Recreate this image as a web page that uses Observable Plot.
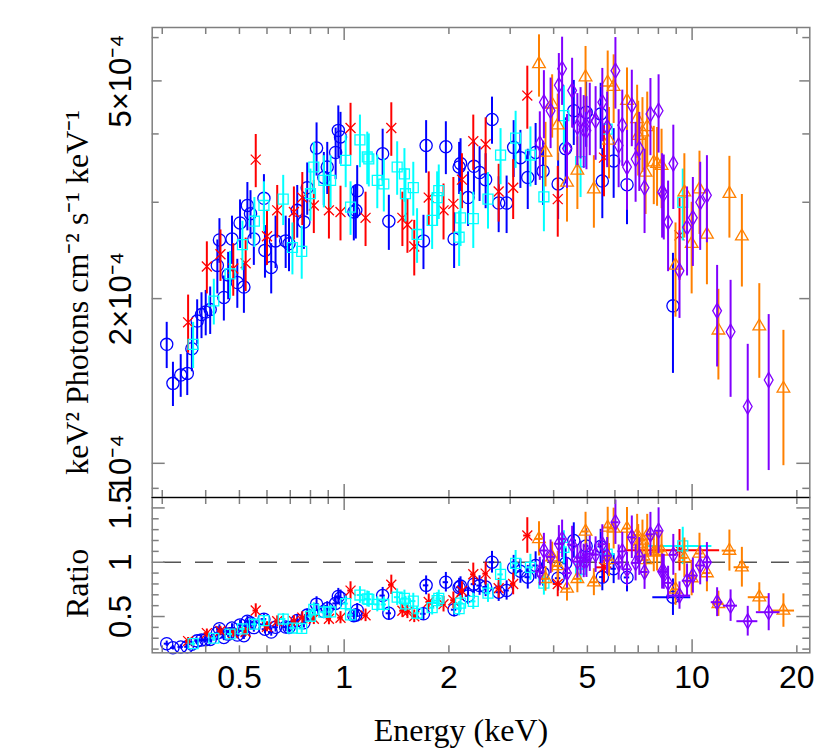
<!DOCTYPE html>
<html><head><meta charset="utf-8">
<script src="https://cdn.jsdelivr.net/npm/d3@7"></script>
<script src="https://cdn.jsdelivr.net/npm/@observablehq/plot@0.6"></script>
<style>
html,body{margin:0;padding:0;background:#fff;}
#chart{position:relative;width:830px;height:756px;overflow:hidden;background:#fff;}
#chart svg{position:absolute;left:0;}
</style></head><body><div id="chart"></div>
<script>
// Each row: [energy keV, half bin width keV, flux (1e-4 keV^2 ph cm^-2 s^-1 keV^-1), flux error, ratio, ratio error]
const blue = [
[0.309,0.005,1.65,0.16,0.250,0.024],[0.322,0.005,1.40,0.13,0.212,0.020],[0.339,0.006,1.45,0.13,0.220,0.020],
[0.354,0.006,1.46,0.13,0.221,0.020],[0.365,0.006,1.62,0.15,0.245,0.023],[0.378,0.006,1.82,0.17,0.276,0.026],
[0.389,0.007,1.87,0.18,0.283,0.027],[0.400,0.007,1.89,0.18,0.286,0.027],[0.412,0.007,1.91,0.19,0.289,0.029],
[0.432,0.008,2.30,0.26,0.349,0.039],[0.438,0.008,2.56,0.24,0.388,0.036],[0.451,0.008,2.01,0.19,0.307,0.029],
[0.464,0.008,2.21,0.22,0.338,0.034],[0.476,0.009,2.57,0.26,0.394,0.040],[0.493,0.009,2.14,0.22,0.329,0.034],
[0.502,0.009,2.75,0.28,0.423,0.043],[0.515,0.009,2.10,0.22,0.323,0.034],[0.527,0.010,2.96,0.30,0.457,0.046],
[0.538,0.010,2.86,0.29,0.441,0.045],[0.550,0.010,2.57,0.27,0.398,0.042],[0.588,0.011,3.05,0.32,0.476,0.050],
[0.592,0.011,2.45,0.27,0.383,0.042],[0.617,0.011,2.28,0.24,0.357,0.038],[0.635,0.012,2.55,0.28,0.401,0.044],
[0.679,0.012,2.55,0.28,0.403,0.044],[0.694,0.013,2.52,0.28,0.400,0.044],[0.733,0.013,2.90,0.32,0.463,0.051],
[0.766,0.014,2.76,0.30,0.442,0.048],[0.783,0.014,3.19,0.35,0.513,0.056],[0.833,0.015,3.77,0.42,0.614,0.068],
[0.874,0.016,3.33,0.37,0.546,0.061],[0.894,0.016,3.48,0.38,0.574,0.063],[0.945,0.017,3.70,0.40,0.621,0.067],
[0.962,0.017,4.06,0.44,0.685,0.074],[0.976,0.018,3.95,0.43,0.671,0.073],[1.066,0.019,2.88,0.33,0.508,0.058],
[1.080,0.019,2.90,0.33,0.513,0.058],[1.090,0.020,3.15,0.35,0.558,0.062],[1.290,0.023,3.68,0.40,0.693,0.075],
[1.344,0.024,2.77,0.32,0.530,0.061],[1.690,0.030,2.55,0.29,0.525,0.060],[1.720,0.031,3.81,0.42,0.787,0.087],
[1.960,0.035,3.79,0.42,0.816,0.090],[2.070,0.037,2.57,0.30,0.563,0.066],[2.140,0.038,3.48,0.38,0.768,0.084],
[2.160,0.039,3.53,0.39,0.780,0.086],[2.270,0.041,3.06,0.35,0.690,0.079],[2.360,0.042,3.49,0.40,0.798,0.091],
[2.450,0.044,3.40,0.39,0.785,0.090],[2.550,0.046,3.30,0.38,0.772,0.089],[2.660,0.048,4.25,0.42,1.000,0.100],
[2.780,0.050,2.99,0.35,0.724,0.085],[2.930,0.053,2.99,0.36,0.740,0.089],[3.070,0.055,3.78,0.45,0.950,0.113],
[3.210,0.058,3.62,0.44,0.917,0.111],[3.370,0.061,3.33,0.42,0.862,0.109],[3.550,0.064,3.70,0.48,0.970,0.126],
[3.730,0.067,3.42,0.46,0.900,0.121],[4.120,0.074,3.24,0.45,0.853,0.118],[4.330,0.078,3.76,0.52,0.990,0.137],
[4.570,0.082,4.41,0.60,1.200,0.163],[4.960,0.089,4.38,0.60,1.150,0.158],[5.460,0.098,4.35,0.60,1.145,0.158],
[5.520,0.099,3.28,0.48,0.863,0.126],[5.950,0.107,3.57,0.52,0.940,0.137],[6.500,0.117,3.23,0.50,0.860,0.133],
[8.810,1.100,1.94,0.48,0.678,0.168]
];
const red = [
[0.356,0.006,1.81,0.22,0.274,0.033],[0.403,0.007,2.29,0.25,0.347,0.038],[0.441,0.008,2.41,0.26,0.367,0.040],
[0.480,0.009,2.27,0.25,0.348,0.038],[0.521,0.009,2.32,0.26,0.358,0.040],[0.557,0.010,3.59,0.40,0.555,0.062],
[0.600,0.011,2.60,0.30,0.406,0.047],[0.642,0.012,2.90,0.32,0.456,0.050],[0.717,0.013,2.88,0.32,0.458,0.051],
[0.758,0.014,3.06,0.34,0.490,0.054],[0.818,0.015,2.96,0.33,0.480,0.054],[0.904,0.016,2.90,0.33,0.479,0.055],
[0.976,0.018,2.88,0.33,0.489,0.056],[1.043,0.019,4.10,0.45,0.739,0.081],[1.152,0.021,2.81,0.32,0.511,0.058],
[1.366,0.025,4.10,0.46,0.792,0.089],[1.470,0.026,2.81,0.32,0.553,0.063],[1.520,0.027,2.73,0.31,0.543,0.062],
[1.590,0.029,2.49,0.29,0.502,0.058],[1.750,0.032,3.06,0.35,0.634,0.073],[1.930,0.035,2.90,0.34,0.614,0.072],
[2.060,0.037,2.98,0.35,0.650,0.076],[2.180,0.039,3.30,0.38,0.735,0.085],[2.350,0.042,3.88,0.45,0.889,0.103],
[2.550,0.046,3.83,0.45,0.895,0.105],[2.780,0.050,3.14,0.38,0.760,0.092],[3.060,0.055,3.19,0.40,0.800,0.100],
[3.360,0.080,4.70,0.62,1.246,0.164],[4.110,0.120,3.04,0.45,0.800,0.118],[5.580,0.300,3.62,0.55,0.953,0.145],
[9.200,2.800,2.61,0.45,1.110,0.191]
];
const cyan = [
[0.368,0.006,1.65,0.16,0.250,0.024],[0.422,0.007,1.98,0.19,0.300,0.029],[0.470,0.008,2.22,0.22,0.339,0.034],
[0.510,0.009,2.51,0.26,0.386,0.040],[0.552,0.010,2.77,0.29,0.429,0.045],[0.588,0.011,2.96,0.31,0.462,0.048],
[0.668,0.012,3.04,0.32,0.477,0.050],[0.710,0.013,2.48,0.27,0.394,0.043],[0.755,0.014,2.44,0.27,0.390,0.043],
[0.800,0.014,3.11,0.34,0.502,0.055],[0.818,0.015,3.48,0.38,0.565,0.062],[0.874,0.016,3.29,0.36,0.540,0.059],
[0.914,0.016,3.29,0.36,0.543,0.059],[1.010,0.018,3.58,0.39,0.619,0.067],[1.043,0.019,2.94,0.33,0.515,0.058],
[1.110,0.020,3.90,0.43,0.698,0.077],[1.165,0.021,3.63,0.40,0.662,0.073],[1.177,0.021,3.60,0.40,0.658,0.073],
[1.245,0.022,3.29,0.37,0.612,0.069],[1.300,0.023,3.24,0.36,0.611,0.068],[1.420,0.026,3.48,0.39,0.678,0.076],
[1.490,0.027,3.38,0.38,0.668,0.075],[1.500,0.027,3.11,0.35,0.616,0.069],[1.580,0.028,3.19,0.36,0.642,0.072],
[1.620,0.029,2.62,0.30,0.530,0.061],[1.790,0.032,2.78,0.32,0.581,0.067],[1.850,0.033,3.06,0.35,0.646,0.074],
[1.870,0.034,3.15,0.36,0.667,0.076],[2.140,0.038,2.59,0.30,0.572,0.066],[2.160,0.039,2.81,0.32,0.623,0.071],
[2.350,0.042,2.80,0.33,0.640,0.075],[2.590,0.047,3.04,0.36,0.715,0.085],[2.815,0.051,3.66,0.43,0.888,0.104],
[3.110,0.060,3.93,0.47,0.990,0.118],[3.430,0.070,3.66,0.46,0.953,0.120],[3.750,0.080,3.07,0.42,0.808,0.111],
[4.280,0.100,4.32,0.58,1.137,0.153],[4.780,0.120,3.56,0.50,0.937,0.132],[5.700,0.300,4.08,0.58,1.074,0.153],
[9.400,2.000,3.00,0.45,1.150,0.172]
];
const orange = [
[3.630,0.10,5.37,0.70,1.215,0.158],[3.790,0.10,3.70,0.50,0.847,0.114],[3.960,0.10,4.53,0.60,1.046,0.139],
[4.110,0.10,4.15,0.58,0.965,0.135],[4.370,0.11,3.26,0.50,0.758,0.116],[4.680,0.12,3.43,0.52,0.847,0.128],
[4.940,0.12,5.08,0.70,1.283,0.177],[5.220,0.13,3.17,0.48,0.816,0.124],[5.720,0.14,4.97,0.70,1.320,0.186],
[5.770,0.14,3.89,0.58,1.020,0.152],[5.950,0.15,4.88,0.70,1.310,0.188],[6.500,0.16,4.60,0.68,1.310,0.194],
[6.950,0.17,4.26,0.65,1.250,0.191],[7.000,0.17,3.97,0.62,1.165,0.182],[7.200,0.18,4.03,0.63,1.200,0.188],
[7.350,0.18,3.40,0.55,1.020,0.165],[7.430,0.19,4.12,0.65,1.245,0.196],[7.760,0.19,3.55,0.58,1.090,0.178],
[7.930,0.20,3.53,0.58,1.100,0.181],[8.170,0.20,3.50,0.58,1.100,0.182],[8.960,0.22,2.30,0.45,0.750,0.147],
[9.500,0.24,3.13,0.55,1.040,0.183],[9.970,0.25,2.52,0.48,0.854,0.163],[10.50,0.26,3.17,0.55,1.080,0.187],
[11.03,0.30,2.62,0.50,0.900,0.172],[11.90,0.45,1.75,0.33,0.617,0.116],[12.80,0.60,3.11,0.53,1.107,0.189],
[13.90,0.70,2.60,0.50,0.954,0.183],[15.60,1.10,1.78,0.35,0.678,0.133],[18.30,1.40,1.37,0.38,0.555,0.154]
];
const purple = [
[3.650,0.10,3.84,0.55,0.914,0.131],[3.750,0.10,4.57,0.65,1.108,0.158],[3.920,0.10,4.41,0.65,1.050,0.155],
[4.140,0.10,4.91,0.70,1.170,0.167],[4.230,0.11,5.26,0.75,1.215,0.173],[4.370,0.11,3.76,0.58,0.900,0.139],
[4.520,0.11,4.80,0.70,1.162,0.169],[4.680,0.12,4.12,0.62,1.005,0.151],[4.780,0.12,4.23,0.63,1.040,0.155],
[4.880,0.12,4.08,0.62,1.012,0.154],[4.970,0.12,4.06,0.62,1.015,0.155],[5.080,0.13,4.30,0.65,1.078,0.163],
[5.280,0.13,4.23,0.65,1.070,0.164],[5.520,0.14,4.57,0.70,1.166,0.179],[5.700,0.14,4.12,0.65,1.060,0.167],
[6.020,0.15,5.22,0.78,1.368,0.204],[6.150,0.15,3.81,0.62,0.997,0.162],[6.300,0.16,4.15,0.66,1.100,0.175],
[6.500,0.16,3.48,0.58,0.935,0.156],[6.710,0.17,4.51,0.72,1.230,0.196],[6.880,0.17,3.60,0.60,0.994,0.166],
[7.050,0.18,3.76,0.62,1.053,0.174],[7.300,0.18,3.19,0.56,0.910,0.160],[7.590,0.19,4.35,0.70,1.257,0.202],
[8.010,0.20,4.41,0.72,1.290,0.211],[8.200,0.20,3.13,0.55,0.914,0.161],[8.290,0.21,3.11,0.55,0.912,0.161],
[8.530,0.21,2.76,0.52,0.810,0.153],[8.830,0.22,3.53,0.62,1.068,0.188],[9.200,0.70,2.25,0.41,0.693,0.126],
[9.670,0.30,2.70,0.50,0.830,0.154],[10.05,0.30,2.81,0.52,0.877,0.162],[10.55,0.32,3.00,0.55,0.970,0.178],
[11.03,0.35,3.09,0.56,1.000,0.181],[11.80,0.45,1.90,0.40,0.632,0.133],[12.90,0.60,1.74,0.42,0.600,0.145],
[14.45,1.00,1.27,0.38,0.457,0.137],[16.60,1.30,1.42,0.45,0.540,0.171]
];

// axes
const xTickMinor = [0.3,0.4,0.5,0.6,0.7,0.8,0.9,2,3,4,5,6,7,8,9,20];
const xTickMajor = [1,10];
const xTickLabelValues = [0.5,1,2,5,10,20];
const xTickLabels = ["0.5","1","2","5","10","20"];
const yTickMinor = [0.9,3,4,6];
const yTickMid = [2,5];
const yTickMajor = [1];
const yTickLabelValues = [1,2,5];
const yTickLabels = ["10\u207B\u2074","2\u00D710\u207B\u2074","5\u00D710\u207B\u2074"];
const rTickMinor = [0.2,0.3,0.4,0.6,0.7,0.8,0.9,1.1,1.2,1.3,1.4];
const rTickMajor = [0.5,1,1.5];
const rTickLabels = ["0.5","1","1.5"];
const xTitle = "Energy (keV)";
const yTitle = "keV\u00B2 Photons cm\u207B\u00B2 s\u207B\u00B9 keV\u207B\u00B9";
const rTitle = "Ratio";

// layout
const W = 830, topH = 497, botH = 259;
const mL = 151.7, mR = 20.7, mT = 27, botMB = 103.7;
const plotW = W - mL - mR, topPlotH = topH - mT, botPlotH = botH - botMB;
const xDomain = [0.2807, 21.79];
const yDomainTop = [0.866, 6.26];
const yDomainRatio = [0.166, 1.596];

const series = [
  {data: blue, color: "#0000ff", symbol: "circle", r: 6.1},
  {data: red, color: "#ff0000", symbol: "times", r: 4.6},
  {data: cyan, color: "#00ffff", symbol: "square", r: 5.6},
  {data: orange, color: "#ff8000", symbol: "triangle", r: 4.7},
  {data: purple, color: "#8000ff", symbol: "diamond", r: 4.6}
];

const frameColor = "#7f7f7f";
const sansFont = "'Liberation Sans', Arial, Helvetica, sans-serif";
const serifFont = "'Liberation Serif', 'Times New Roman', serif";

function tickMarks(plotH, yMinor, yMid, yMajor, yLens) {
  const m = [];
  const xt = [[xTickMinor, 7], [xTickMajor, 13]];
  for (const [vals, len] of xt) {
    m.push(Plot.ruleX(vals, {x: d => d, insetBottom: plotH - len, stroke: frameColor, strokeWidth: 1.5}));
    m.push(Plot.ruleX(vals, {x: d => d, insetTop: plotH - len, stroke: frameColor, strokeWidth: 1.5}));
  }
  const yt = [[yMinor, yLens[0]], [yMid, yLens[1]], [yMajor, yLens[2]]];
  for (const [vals, len] of yt) {
    m.push(Plot.ruleY(vals, {y: d => d, insetRight: plotW - len, stroke: frameColor, strokeWidth: 1.5}));
    m.push(Plot.ruleY(vals, {y: d => d, insetLeft: plotW - len, stroke: frameColor, strokeWidth: 1.5}));
  }
  return m;
}

// ---- top panel ----
const topMarks = [];
for (const s of series) {
  topMarks.push(Plot.ruleX(s.data, {x: d => d[0], y1: d => d[2] - d[3], y2: d => d[2] + d[3], stroke: s.color, strokeWidth: 2}));
  topMarks.push(Plot.dot(s.data, {x: d => d[0], y: d => d[2], symbol: s.symbol, r: s.r, stroke: s.color, fill: "none", strokeWidth: 1.3}));
}
const topRows = yTickLabelValues.map((v, i) => ({v, label: yTickLabels[i]}));
const topPlot = Plot.plot({
  width: W, height: topH,
  marginLeft: mL, marginRight: mR, marginTop: mT, marginBottom: 0,
  style: {background: "transparent", overflow: "visible"},
  x: {type: "log", domain: xDomain, axis: null},
  y: {type: "log", domain: yDomainTop, axis: null},
  marks: [
    ...topMarks,
    ...tickMarks(topPlotH, yTickMinor, yTickMid, yTickMajor, [7, 10, 13]),
    Plot.frame({stroke: frameColor, strokeWidth: 1.5}),
    Plot.ruleY([yDomainTop[0]], {stroke: "#000", strokeWidth: 1}),
    Plot.text(topRows, {y: d => d.v, text: d => d.label, frameAnchor: "left", rotate: -90, textAnchor: "middle", lineAnchor: "bottom", dx: -21.7, fontSize: 31, fontFamily: sansFont, fill: "#000"}),
    Plot.text([yTitle], {text: d => d, frameAnchor: "left", rotate: -90, textAnchor: "middle", lineAnchor: "bottom", dx: -64.7, dy: 30, fontSize: 32, fontFamily: serifFont, fill: "#000"})
  ]
});
topPlot.style.top = "0px";

// ---- ratio panel ----
const botMarks = [
  Plot.ruleY([1], {stroke: "#555", strokeWidth: 1.7, strokeDasharray: "18,14", strokeDashoffset: 20.7})
];
for (const s of series) {
  botMarks.push(Plot.ruleX(s.data, {x: d => d[0], y1: d => d[4] - d[5], y2: d => d[4] + d[5], stroke: s.color, strokeWidth: 2}));
  botMarks.push(Plot.ruleY(s.data, {y: d => d[4], x1: d => d[0] - d[1], x2: d => d[0] + d[1], stroke: s.color, strokeWidth: 2}));
  botMarks.push(Plot.dot(s.data, {x: d => d[0], y: d => d[4], symbol: s.symbol, r: s.r, stroke: s.color, fill: "none", strokeWidth: 1.3}));
}
const xRows = xTickLabelValues.map((v, i) => ({v, label: xTickLabels[i]}));
const rRows = rTickMajor.map((v, i) => ({v, label: rTickLabels[i]}));
const botPlot = Plot.plot({
  width: W, height: botH,
  marginLeft: mL, marginRight: mR, marginTop: 0, marginBottom: botMB,
  style: {background: "transparent", overflow: "visible"},
  x: {type: "log", domain: xDomain, axis: null},
  y: {type: "linear", domain: yDomainRatio, axis: null},
  marks: [
    ...botMarks,
    ...tickMarks(botPlotH, rTickMinor, [], rTickMajor, [7, 10, 13]),
    Plot.frame({stroke: frameColor, strokeWidth: 1.5}),
    Plot.ruleY([yDomainRatio[1]], {stroke: "#000", strokeWidth: 1}),
    Plot.text(rRows, {y: d => d.v, text: d => d.label, frameAnchor: "left", rotate: -90, textAnchor: "middle", lineAnchor: "bottom", dx: -21.7, fontSize: 31, fontFamily: sansFont, fill: "#000"}),
    Plot.text(xRows, {x: d => d.v, text: d => d.label, frameAnchor: "bottom", lineAnchor: "top", dy: 12.7, fontSize: 32, fontFamily: sansFont, fill: "#000"}),
    Plot.text([xTitle], {text: d => d, frameAnchor: "bottom", lineAnchor: "bottom", dx: -20, dy: 87.7, fontSize: 32, fontFamily: serifFont, fill: "#000"}),
    Plot.text([rTitle], {text: d => d, frameAnchor: "left", rotate: -90, textAnchor: "middle", lineAnchor: "bottom", dx: -64.7, dy: 8.3, fontSize: 32, fontFamily: serifFont, fill: "#000"})
  ]
});
botPlot.style.top = topH + "px";

const chart = document.getElementById("chart");
chart.appendChild(topPlot);
chart.appendChild(botPlot);
</script>
</body></html>
